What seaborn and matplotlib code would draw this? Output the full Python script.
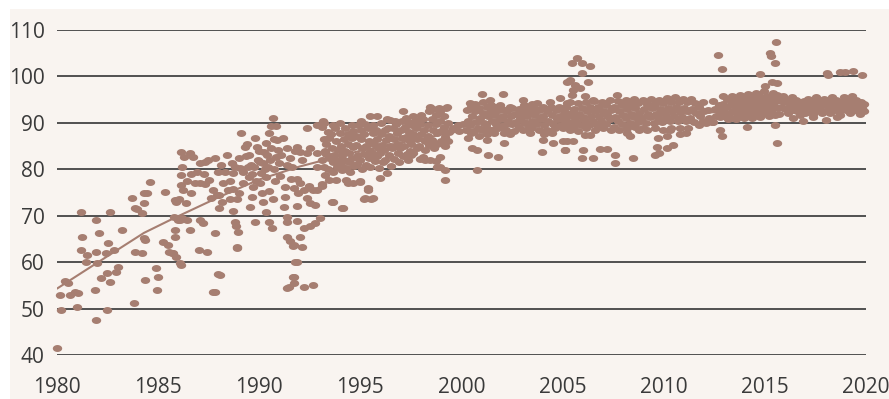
import matplotlib
matplotlib.use("Agg")
import matplotlib.pyplot as plt
from matplotlib.patches import Rectangle
import seaborn as sns
import pandas as pd
import numpy as np

# ---- data ----
pts_1980_1986 = [
    (1980.0, 41.5), (1980.2, 49.7), (1980.15, 53.0), (1980.4, 56.0), (1980.55, 55.5),
    (1980.65, 53.0), (1980.9, 53.6), (1981.02, 53.4), (1981.0, 50.4), (1981.2, 70.8),
    (1981.22, 65.4), (1981.18, 62.6), (1981.5, 61.6), (1981.45, 60.0), (1981.95, 69.0),
    (1982.1, 66.3), (1981.93, 62.2), (1981.97, 59.8), (1981.9, 54.0), (1981.95, 47.6),
    (1982.45, 49.7), (1982.2, 56.6), (1982.47, 57.7), (1982.6, 55.8), (1982.5, 64.1),
    (1982.4, 62.0), (1982.62, 70.8), (1982.8, 62.6), (1982.9, 57.9), (1983.0, 59.0),
    (1983.2, 67.0), (1983.8, 51.2), (1983.7, 73.8), (1983.95, 71.4), (1984.2, 70.6),
    (1984.3, 74.9), (1984.45, 74.9), (1984.6, 77.3), (1983.85, 62.2), (1984.2, 62.0),
    (1984.35, 64.8), (1984.37, 56.2), (1984.9, 58.7), (1985.0, 56.8), (1984.92, 54.0),
    (1985.35, 75.1), (1985.25, 64.4), (1985.5, 63.7), (1985.52, 62.2), (1985.75, 62.0),
    (1985.85, 65.4), (1985.9, 73.0), (1986.0, 69.0), (1986.1, 59.8), (1985.7, 62.0),
    (1985.87, 61.2), (1986.15, 59.4), (1984.3, 72.7), (1983.85, 71.6), (1984.3, 65.3),
    (1985.85, 66.9), (1985.8, 69.7), (1985.85, 73.4), (1986.2, 69.6), (1986.45, 69.0),
]
pts_1986_1992 = [
    (1986.15, 83.8), (1986.3, 82.7), (1986.6, 83.5), (1986.7, 82.7), (1986.17, 80.5),
    (1986.13, 78.8), (1986.65, 79.0), (1986.15, 76.6), (1986.25, 75.6), (1985.95, 73.4),
    (1986.05, 73.6), (1986.4, 72.7), (1986.65, 74.9), (1987.05, 81.4), (1987.3, 81.6),
    (1987.45, 82.0), (1987.8, 82.5), (1987.05, 77.0), (1987.3, 76.8), (1987.5, 77.6),
    (1987.7, 75.6), (1987.9, 74.5), (1987.6, 73.8), (1987.05, 69.0), (1987.2, 68.5),
    (1987.0, 62.6), (1986.6, 66.9), (1986.1, 69.0), (1988.0, 74.4), (1988.15, 73.0),
    (1988.02, 71.6), (1987.8, 66.3), (1988.05, 57.2), (1987.8, 53.6), (1988.4, 83.0),
    (1988.65, 81.4), (1988.7, 79.2), (1988.55, 77.4), (1988.72, 75.8), (1988.55, 73.7),
    (1988.7, 71.0), (1988.8, 68.7), (1988.85, 67.7), (1988.95, 66.6), (1988.9, 63.0),
    (1989.1, 87.8), (1989.3, 84.9), (1989.35, 82.8), (1989.45, 80.6), (1989.05, 80.2),
    (1989.47, 78.4), (1989.7, 76.2), (1989.65, 74.1), (1989.55, 71.8), (1989.8, 68.7),
    (1989.8, 86.7), (1989.9, 84.9), (1989.92, 82.0), (1990.1, 79.2), (1990.2, 81.3),
    (1990.22, 83.8), (1990.35, 85.6), (1990.5, 87.8), (1990.7, 91.0), (1990.6, 89.4),
    (1990.85, 89.4), (1990.72, 86.5), (1990.9, 86.4), (1990.55, 82.0), (1990.85, 82.7),
    (1991.0, 81.3), (1990.35, 78.4), (1990.5, 75.3), (1990.7, 73.5), (1990.2, 72.9),
    (1990.35, 70.9), (1990.5, 68.6), (1990.65, 67.4), (1991.35, 84.5), (1991.37, 80.9),
    (1991.25, 76.2), (1991.27, 74.1), (1991.2, 71.9), (1991.35, 69.8), (1991.38, 68.6),
    (1991.35, 65.5), (1991.5, 64.6), (1991.65, 63.4), (1991.85, 60.0), (1991.65, 56.9),
    (1991.45, 54.7), (1991.85, 84.9), (1987.7, 53.6), (1987.95, 57.4), (1987.4, 62.2),
    (1988.9, 63.2), (1991.35, 54.5), (1991.75, 60.0),
    (1988.8, 80.5), (1989.0, 82.5), (1989.2, 79.5), (1989.22, 77.0), (1989.4, 85.5),
    (1989.5, 83.0), (1989.6, 81.0), (1989.62, 79.0), (1989.75, 80.5), (1989.85, 77.5),
    (1990.0, 84.0), (1990.02, 81.5), (1990.05, 77.0), (1990.15, 75.0), (1990.3, 80.0),
    (1990.4, 83.0), (1990.45, 80.5), (1990.6, 84.5), (1990.75, 80.0), (1990.8, 77.5),
    (1990.95, 84.2), (1991.05, 78.5), (1991.1, 83.0), (1991.15, 86.8), (1991.5, 82.5),
    (1991.55, 78.0), (1991.6, 80.5), (1991.7, 76.0), (1991.75, 84.0), (1988.3, 79.5),
    (1988.2, 77.0), (1988.45, 75.5), (1988.9, 73.5), (1989.0, 75.0), (1987.95, 79.5),
    (1988.1, 81.0), (1987.25, 79.0), (1986.8, 77.0), (1986.9, 79.5), (1986.45, 77.5),
]
pts_1992_1997 = [
    (1992.65, 55.1), (1992.2, 54.7), (1991.7, 55.5), (1991.72, 56.9), (1991.7, 63.7),
    (1992.1, 63.3), (1992.0, 65.5), (1992.2, 67.3), (1991.85, 68.8), (1992.5, 67.7),
    (1992.75, 68.4), (1993.0, 69.5), (1991.85, 72.0), (1992.35, 73.8), (1992.75, 72.3),
    (1993.6, 73.0), (1994.1, 71.6), (1992.2, 75.6), (1992.45, 76.4), (1992.85, 75.6),
    (1993.1, 76.8), (1993.45, 77.8), (1993.8, 77.8), (1994.3, 77.8), (1994.65, 77.0),
    (1995.0, 77.5), (1995.4, 75.9), (1995.2, 73.7), (1995.55, 73.7), (1991.85, 78.0),
    (1992.1, 82.0), (1992.35, 83.4), (1992.5, 84.5), (1992.85, 80.4), (1993.1, 81.9),
    (1993.3, 83.3), (1993.32, 85.4), (1992.35, 88.8), (1992.85, 89.6), (1993.2, 89.9),
    (1994.0, 90.0), (1995.05, 90.3), (1995.5, 91.4), (1997.1, 92.6), (1993.17, 90.3),
    (1993.67, 89.6), (1994.57, 89.6), (1995.8, 91.5), (1996.47, 90.6), (1993.67, 73.0),
    (1994.16, 71.6), (1995.23, 73.8), (1995.64, 73.8), (1995.4, 75.5), (1995.97, 78.1),
    (1996.3, 79.1), (1994.98, 77.3), (1994.4, 77.0), (1992.68, 75.5), (1992.02, 77.0),
    (1991.94, 74.8), (1993.09, 76.3), (1992.51, 72.7), (1992.02, 83.8), (1992.84, 83.5),
    (1993.09, 89.2),
    (1993.22, 86.5), (1993.27, 84.0), (1993.18, 80.5), (1993.25, 78.8),
    (1993.41, 88.0), (1993.46, 82.5), (1993.38, 80.0), (1993.44, 86.8),
    (1993.6, 84.5), (1993.66, 81.5), (1993.57, 87.5), (1993.63, 79.5), (1993.69, 83.0),
    (1993.81, 86.0), (1993.86, 82.0), (1993.77, 88.8), (1993.84, 80.5), (1993.9, 84.2),
    (1994.02, 85.0), (1994.07, 83.0), (1993.98, 87.8), (1994.05, 81.0), (1994.1, 79.8),
    (1994.21, 86.5), (1994.26, 84.0), (1994.17, 82.0), (1994.24, 89.0), (1994.3, 80.2),
    (1994.4, 85.5), (1994.46, 83.5), (1994.37, 87.5), (1994.44, 81.5), (1994.5, 79.5),
    (1994.61, 86.8), (1994.66, 84.8), (1994.57, 82.5), (1994.64, 88.3), (1994.7, 80.8),
    (1994.8, 85.2), (1994.86, 83.0), (1994.77, 87.2), (1994.84, 81.2), (1994.9, 89.5),
    (1995.01, 86.5), (1995.06, 84.5), (1994.97, 82.0), (1995.04, 88.5), (1995.1, 80.0),
    (1995.2, 87.5), (1995.26, 85.0), (1995.17, 83.2), (1995.24, 89.8), (1995.3, 81.0),
    (1995.41, 86.0), (1995.46, 84.0), (1995.37, 88.8), (1995.44, 82.5), (1995.5, 80.5),
    (1995.6, 87.8), (1995.66, 85.5), (1995.57, 83.5), (1995.64, 89.5), (1995.7, 81.8),
    (1995.81, 86.5), (1995.86, 84.5), (1995.77, 88.5), (1995.84, 82.8), (1995.9, 80.2),
    (1996.0, 87.5), (1996.06, 85.2), (1995.97, 83.5), (1996.04, 90.0), (1996.1, 81.5),
    (1996.21, 88.5), (1996.26, 86.3), (1996.17, 84.2), (1996.24, 82.0), (1996.3, 90.8),
    (1996.4, 87.2), (1996.46, 85.0), (1996.37, 89.0), (1996.44, 83.0), (1996.5, 80.8),
    (1996.61, 88.8), (1996.66, 86.5), (1996.57, 84.5), (1996.64, 82.2), (1996.7, 90.3),
    (1996.8, 87.8), (1996.86, 85.5), (1996.77, 89.8), (1996.84, 83.5), (1996.9, 81.5),
    (1997.01, 88.5), (1997.06, 86.8), (1996.97, 84.5), (1997.04, 90.5), (1997.1, 82.8),
    (1997.2, 89.2), (1997.26, 87.0), (1997.17, 85.0), (1997.24, 91.0), (1997.3, 83.2),
    (1997.41, 88.0), (1997.46, 86.0), (1997.37, 90.2), (1997.44, 84.0), (1997.35, 82.0),
]
pts_1997_2000 = [
    (1998.44, 93.5), (1998.9, 93.2), (1999.27, 93.5), (1997.9, 90.6), (1997.62, 83.5),
    (1998.1, 82.7), (1998.77, 80.6), (1999.18, 77.7), (1998.45, 82.0), (1998.92, 82.7),
    (1997.6, 86.8), (1997.5, 83.1), (1997.95, 82.3), (1998.2, 82.0), (1998.75, 81.7),
    (1998.95, 80.6), (1999.2, 79.9),
    (1997.55, 89.5), (1997.6, 87.5), (1997.52, 85.5), (1997.58, 91.5),
    (1997.75, 88.8), (1997.8, 86.5), (1997.72, 90.5), (1997.78, 84.5),
    (1997.95, 89.8), (1998.0, 87.5), (1997.92, 85.0), (1997.98, 91.8),
    (1998.15, 88.5), (1998.2, 86.2), (1998.12, 90.8), (1998.18, 84.2),
    (1998.35, 89.5), (1998.4, 92.5), (1998.32, 87.2), (1998.38, 85.2),
    (1998.55, 90.8), (1998.6, 88.5), (1998.52, 86.3), (1998.58, 93.0), (1998.62, 84.5),
    (1998.75, 89.8), (1998.8, 87.8), (1998.72, 91.8), (1998.78, 85.5),
    (1998.95, 90.5), (1999.0, 88.2), (1998.92, 92.5), (1998.98, 86.0),
    (1999.15, 89.2), (1999.2, 87.0), (1999.12, 91.5), (1999.18, 85.0), (1999.22, 93.2),
    (1999.35, 90.0), (1999.4, 88.0), (1999.32, 86.2),
    (1999.6, 88.8), (1999.85, 89.5), (1999.9, 88.2), (2000.05, 89.8),
]
pts_2000_2005 = [
    (2001.0, 96.2), (2002.06, 96.2), (2000.42, 94.2), (2001.4, 95.0), (2001.9, 93.9),
    (2002.4, 93.5), (2000.33, 86.7), (2000.5, 84.5), (2000.75, 84.2), (2001.32, 83.1),
    (2001.82, 82.7), (2000.75, 79.9), (2001.24, 86.3), (2002.08, 85.6),
    (2003.05, 95.0), (2003.71, 94.2), (2004.37, 94.6), (2004.86, 95.3), (2005.2, 94.2),
    (2003.96, 83.8), (2005.1, 84.2), (2004.04, 86.3), (2003.38, 87.8), (2004.53, 85.6),
    (2005.22, 86.0),
    (2000.25, 92.8), (2000.3, 90.5), (2000.22, 88.5),
    (2000.45, 93.5), (2000.5, 91.5), (2000.42, 89.5), (2000.48, 87.8),
    (2000.65, 92.5), (2000.7, 90.2), (2000.62, 88.2), (2000.68, 94.0),
    (2000.85, 93.2), (2000.9, 91.0), (2000.82, 89.0), (2000.88, 87.2),
    (2001.05, 92.2), (2001.1, 90.0), (2001.02, 88.5), (2001.08, 94.5),
    (2001.25, 93.5), (2001.3, 91.5), (2001.22, 89.5), (2001.28, 87.5),
    (2001.45, 92.5), (2001.5, 90.5), (2001.42, 88.5), (2001.48, 93.8),
    (2001.65, 91.8), (2001.7, 89.8), (2001.62, 87.8), (2001.68, 93.5),
    (2001.85, 92.8), (2001.9, 90.8), (2001.82, 88.8),
    (2002.05, 91.5), (2002.1, 89.5), (2002.02, 93.0), (2002.08, 87.8),
    (2002.25, 92.5), (2002.3, 90.5), (2002.22, 88.5),
    (2002.45, 91.5), (2002.5, 89.8), (2002.42, 87.5), (2002.48, 93.2),
    (2002.65, 92.0), (2002.7, 90.2), (2002.62, 88.2),
    (2002.85, 93.0), (2002.9, 91.0), (2002.82, 89.2),
    (2003.05, 92.2), (2003.1, 90.2), (2003.02, 88.5), (2003.08, 93.8),
    (2003.25, 91.5), (2003.3, 89.5), (2003.22, 93.2),
    (2003.45, 92.5), (2003.5, 90.5), (2003.42, 88.8), (2003.48, 94.0),
    (2003.65, 91.8), (2003.7, 89.8), (2003.62, 93.0),
    (2003.85, 92.8), (2003.9, 90.8), (2003.82, 88.5),
    (2004.05, 91.5), (2004.1, 89.5), (2004.02, 93.5), (2004.08, 87.5),
    (2004.25, 92.5), (2004.3, 90.5), (2004.22, 88.5),
    (2004.45, 91.8), (2004.5, 89.8), (2004.42, 93.5), (2004.48, 87.8),
    (2004.65, 92.8), (2004.7, 90.8), (2004.62, 88.8),
    (2004.85, 91.5), (2004.9, 89.5), (2004.82, 93.5),
    (2005.05, 92.5), (2005.1, 90.5), (2005.02, 88.8),
]
pts_2005_2012 = [
    (2005.7, 103.95), (2005.45, 102.9), (2005.95, 102.9), (2006.35, 102.3), (2005.95, 100.7),
    (2005.2, 98.9), (2005.6, 98.2), (2005.5, 97.1), (2005.85, 97.5), (2006.27, 98.9),
    (2005.45, 96.0), (2006.1, 95.7), (2006.5, 95.0), (2007.67, 96.05), (2005.36, 99.3),
    (2005.03, 86.0), (2005.53, 86.0), (2005.12, 84.2), (2006.0, 84.2), (2005.94, 82.4),
    (2006.5, 82.4), (2006.85, 84.3), (2007.2, 84.3), (2007.6, 83.1), (2007.6, 81.3),
    (2008.5, 82.4), (2006.1, 87.4), (2006.35, 87.4), (2008.2, 87.8), (2008.35, 87.1),
    (2008.8, 88.5), (2009.65, 84.9), (2009.57, 83.1), (2009.75, 83.5), (2010.14, 84.6),
    (2010.47, 85.3), (2010.14, 87.1), (2010.8, 87.5), (2011.1, 87.8), (2010.3, 88.5),
    (2009.7, 86.7), (2012.1, 89.9), (2012.4, 90.2),
    (2005.15, 93.5), (2005.2, 91.5), (2005.12, 89.5),
    (2005.35, 94.5), (2005.4, 92.2), (2005.32, 90.2), (2005.38, 88.5),
    (2005.55, 93.0), (2005.6, 91.0), (2005.52, 89.2),
    (2005.75, 94.2), (2005.8, 92.0), (2005.72, 90.0), (2005.78, 88.2),
    (2005.95, 93.2), (2006.0, 91.2), (2005.92, 89.5),
    (2006.15, 94.5), (2006.2, 92.5), (2006.12, 90.5), (2006.18, 88.8),
    (2006.35, 93.5), (2006.4, 91.5), (2006.32, 89.5),
    (2006.55, 94.8), (2006.6, 92.5), (2006.52, 90.2), (2006.58, 88.5),
    (2006.75, 93.5), (2006.8, 91.5), (2006.72, 89.5),
    (2006.95, 94.5), (2007.0, 92.5), (2006.92, 90.5), (2006.98, 88.8),
    (2007.15, 93.8), (2007.2, 91.8), (2007.12, 89.8),
    (2007.35, 95.0), (2007.4, 92.8), (2007.32, 90.8), (2007.38, 88.5),
    (2007.55, 93.5), (2007.6, 91.2), (2007.52, 89.2),
    (2007.75, 94.8), (2007.8, 92.5), (2007.72, 90.5), (2007.78, 88.5),
    (2007.95, 93.8), (2008.0, 91.8), (2007.92, 89.8),
    (2008.15, 95.0), (2008.2, 93.0), (2008.12, 91.0), (2008.18, 89.0),
    (2008.35, 94.0), (2008.4, 92.0), (2008.32, 90.0),
    (2008.55, 95.2), (2008.6, 93.2), (2008.52, 91.2), (2008.58, 89.2),
    (2008.75, 94.2), (2008.8, 92.2), (2008.72, 90.2),
    (2008.95, 95.0), (2009.0, 93.0), (2008.92, 91.0), (2008.98, 89.0),
    (2009.15, 94.0), (2009.2, 92.0), (2009.12, 90.0), (2009.18, 88.5),
    (2009.35, 95.2), (2009.4, 93.2), (2009.32, 91.2),
    (2009.55, 94.0), (2009.6, 92.0), (2009.52, 90.0), (2009.58, 88.8),
    (2009.75, 95.0), (2009.8, 93.0), (2009.72, 91.0),
    (2009.95, 94.2), (2010.0, 92.2), (2009.92, 90.2), (2009.98, 88.5),
    (2010.15, 95.3), (2010.2, 93.2), (2010.12, 91.2),
    (2010.35, 94.5), (2010.4, 92.5), (2010.32, 90.5), (2010.38, 88.8),
    (2010.55, 95.5), (2010.6, 93.5), (2010.52, 91.5),
    (2010.75, 94.5), (2010.8, 92.5), (2010.72, 90.5), (2010.78, 89.0),
    (2010.95, 95.2), (2011.0, 93.2), (2010.92, 91.2),
    (2011.15, 94.5), (2011.2, 92.5), (2011.12, 90.5), (2011.18, 88.8),
    (2011.35, 95.2), (2011.4, 93.0), (2011.32, 91.0),
    (2011.55, 94.2), (2011.6, 92.2), (2011.52, 90.2),
    (2011.75, 93.5), (2011.8, 91.5), (2011.72, 89.5),
    (2011.95, 94.5), (2012.0, 92.5), (2011.92, 90.5),
    (2012.2, 92.8), (2012.25, 91.0),
]
pts_2012_2020 = [
    (2012.7, 104.7), (2012.87, 101.6), (2015.55, 107.4), (2015.26, 105.0), (2015.3, 104.4),
    (2015.5, 103.0), (2014.76, 100.6), (2015.0, 98.0), (2015.34, 98.7), (2015.6, 98.5),
    (2018.05, 100.7), (2018.14, 100.35), (2018.7, 100.9), (2018.96, 100.9), (2019.34, 101.1),
    (2019.79, 100.35), (2012.45, 94.7), (2012.95, 95.7),
    (2012.8, 88.5), (2012.87, 87.2), (2014.13, 89.1), (2015.5, 89.6), (2015.6, 85.6),
    (2012.45, 90.1), (2016.4, 91.0), (2017.4, 91.2), (2018.0, 90.6), (2018.55, 91.3),
    (2016.9, 90.5),
    (2012.55, 93.0), (2012.6, 91.5),
    (2012.75, 92.5), (2012.8, 91.2), (2012.72, 93.8),
    (2012.95, 92.8), (2013.0, 91.5), (2012.92, 94.0),
    (2013.15, 93.5), (2013.2, 92.0), (2013.12, 95.2), (2013.18, 90.8),
    (2013.35, 94.2), (2013.4, 92.5), (2013.32, 91.0), (2013.38, 95.8),
    (2013.55, 93.5), (2013.6, 92.0), (2013.52, 95.0), (2013.58, 90.8),
    (2013.75, 94.5), (2013.8, 93.0), (2013.72, 91.5), (2013.78, 96.0),
    (2013.95, 93.8), (2014.0, 92.2), (2013.92, 95.5), (2013.98, 91.0),
    (2014.15, 94.8), (2014.2, 93.2), (2014.12, 91.8), (2014.18, 96.2),
    (2014.35, 94.0), (2014.4, 92.5), (2014.32, 95.5), (2014.38, 91.0),
    (2014.55, 95.0), (2014.6, 93.5), (2014.52, 92.0), (2014.58, 96.5),
    (2014.75, 94.2), (2014.8, 92.8), (2014.72, 95.8), (2014.78, 91.2),
    (2014.95, 95.2), (2015.0, 93.8), (2014.92, 92.2), (2014.98, 96.8),
    (2015.15, 94.5), (2015.2, 93.0), (2015.12, 95.8), (2015.18, 91.5),
    (2015.35, 95.5), (2015.4, 94.0), (2015.32, 92.5), (2015.38, 96.5),
    (2015.55, 94.8), (2015.6, 93.2), (2015.52, 91.8), (2015.58, 96.0),
    (2015.75, 95.0), (2015.8, 93.5), (2015.72, 92.0),
    (2015.95, 94.5), (2016.0, 93.0), (2015.92, 95.8),
    (2016.15, 95.0), (2016.2, 93.5), (2016.12, 92.2),
    (2016.35, 94.2), (2016.4, 92.8), (2016.32, 95.5),
    (2016.55, 93.8), (2016.6, 92.5), (2016.52, 95.0),
    (2016.75, 94.5), (2016.8, 93.0), (2016.72, 91.8),
    (2016.95, 93.5), (2017.0, 92.2), (2016.92, 94.8),
    (2017.15, 94.0), (2017.2, 92.8), (2017.12, 95.2),
    (2017.35, 93.2), (2017.4, 92.0), (2017.32, 94.5),
    (2017.55, 94.2), (2017.6, 92.8), (2017.52, 95.5),
    (2017.75, 93.5), (2017.8, 92.2), (2017.72, 94.8),
    (2017.95, 94.0), (2018.0, 92.5), (2017.92, 95.2),
    (2018.15, 93.5), (2018.2, 92.2), (2018.12, 94.8),
    (2018.35, 94.5), (2018.4, 93.0), (2018.32, 95.5),
    (2018.55, 93.8), (2018.6, 92.5), (2018.52, 95.0),
    (2018.75, 94.5), (2018.8, 93.0), (2018.72, 91.8),
    (2018.95, 94.0), (2019.0, 92.8), (2018.92, 95.5),
    (2019.15, 93.5), (2019.2, 92.2), (2019.12, 94.8),
    (2019.35, 94.5), (2019.4, 93.0), (2019.32, 95.8),
    (2019.55, 93.8), (2019.6, 92.5), (2019.52, 95.0),
    (2019.75, 94.5), (2019.8, 93.2), (2019.72, 92.0),
    (2019.9, 94.0), (2019.92, 92.5),
]
trend_years = [1980, 1982, 1984.3, 1985.7, 1988, 1990, 1992, 1995, 2000, 2005, 2010, 2015, 2020]
trend_values = [54.3, 59.9, 66.3, 69.3, 74.0, 77.8, 80.6, 84.0, 88.3, 90.3, 91.7, 92.9, 94.0]
x_ticks = [1980, 1985, 1990, 1995, 2000, 2005, 2010, 2015, 2020]
y_ticks = [40, 50, 60, 70, 80, 90, 100, 110]

# ---- style ----
BG = "#f9f4f0"
DOT = "#a67e71"
sns.set_style("white")
plt.rcParams["font.family"] = ["Open Sans", "DejaVu Sans"]

all_pts = (pts_1980_1986 + pts_1986_1992 + pts_1992_1997 + pts_1997_2000
           + pts_2000_2005 + pts_2005_2012 + pts_2012_2020)
df = pd.DataFrame(all_pts, columns=["year", "value"])
trend = pd.DataFrame({"year": trend_years, "value": trend_values})

# slightly wide elliptical dot, as in the reference
_t = np.linspace(0, 2 * np.pi, 25)
ellipse_marker = np.column_stack([np.cos(_t), 0.74 * np.sin(_t)])

fig = plt.figure(figsize=(8.89, 3.99), dpi=100, facecolor="white")
fig.patches.append(Rectangle((10 / 889, 0), 1, 1 - 9 / 399, transform=fig.transFigure,
                             facecolor=BG, edgecolor="none", zorder=-10))
ax = fig.add_axes([57 / 889, 1 - 355 / 399, 809 / 889, 325 / 399])
ax.set_facecolor(BG)
ax.patch.set_alpha(0)

for v in y_ticks:
    ax.axhline(v, color="#353535", lw=1.2, zorder=1)

sns.scatterplot(data=df, x="year", y="value", ax=ax, color=DOT, s=46,
                marker=ellipse_marker, linewidth=0, alpha=1, zorder=3)
sns.lineplot(data=trend, x="year", y="value", ax=ax, color=DOT, lw=1.5,
             zorder=4, estimator=None)

ax.set_xlim(1980, 2020)
ax.set_ylim(40, 110)
ax.set_xticks(x_ticks)
ax.set_yticks(y_ticks)
ax.set_xticklabels([str(t) for t in x_ticks])
ax.set_yticklabels([str(t) for t in y_ticks])
ax.tick_params(axis="x", length=0, pad=16, labelsize=15, labelcolor="#3a3a3a")
ax.tick_params(axis="y", length=0, pad=9, labelsize=15, labelcolor="#3a3a3a")
ax.set_xlabel("")
ax.set_ylabel("")
for s in ax.spines.values():
    s.set_visible(False)
for c in ax.collections:
    c.set_clip_on(False)

fig.savefig("out.png", dpi=100, facecolor="white")
